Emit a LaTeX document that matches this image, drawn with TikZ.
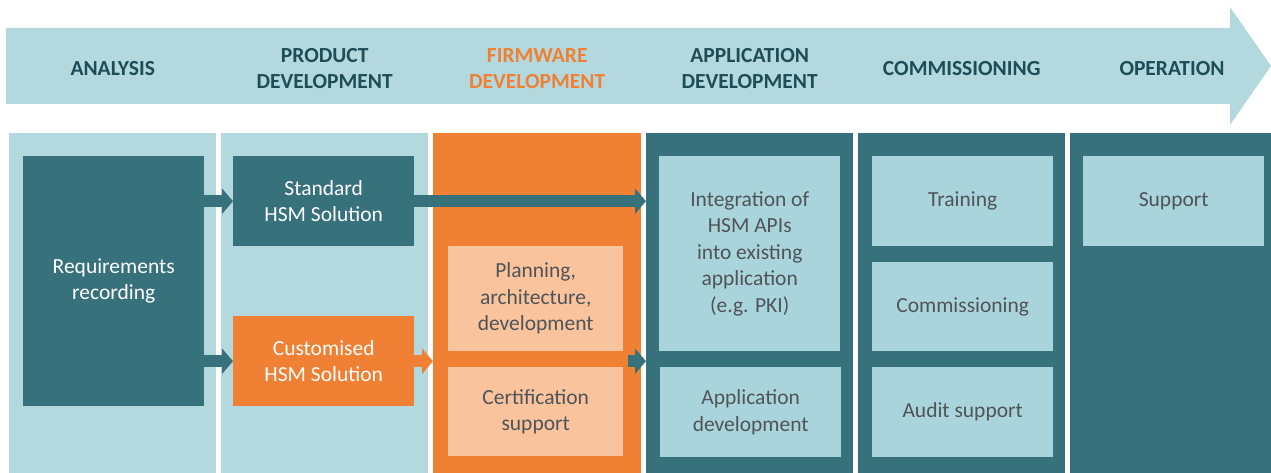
\documentclass[tikz,border=0pt]{standalone}
\usepackage{fontspec}
\setmainfont{Carlito}
\usetikzlibrary{arrows.meta}
\definecolor{lb}{HTML}{B3D9DF}
\definecolor{lbox}{HTML}{AAD4DB}
\definecolor{dk}{HTML}{37717C}
\definecolor{org}{HTML}{EF8034}
\definecolor{peach}{HTML}{F9C39D}
\definecolor{hdrc}{HTML}{1E4D57}
\definecolor{gtxt}{HTML}{4F5458}
\begin{document}
\begin{tikzpicture}[x=1pt,y=-1pt,
  col/.style={anchor=north west, inner sep=0pt, minimum width=207pt, minimum height=340pt},
  box/.style={anchor=north west, inner sep=0pt, minimum width=181pt, align=center, text=gtxt, font=\fontsize{21.5}{26.5}\selectfont},
  hdr/.style={align=center, text=hdrc, font=\bfseries\fontsize{21.5}{26}\selectfont},
  blk/.style={line width=12pt, -{Triangle[length=11pt,width=25pt]}}]
\useasboundingbox (0,0) rectangle (1271,473);
% big process arrow
\fill[lb] (6,28) -- (1230,28) -- (1230,7) -- (1271,66) -- (1230,125) -- (1230,104) -- (6,104) -- cycle;
% columns
\node[col, fill=lb] (c1) at (9,133) {};
\node[col, fill=lb] (c2) at (221,133) {};
\node[col, fill=org, minimum width=208pt] (c3) at (433,133) {};
\node[col, fill=dk] (c4) at (646,133) {};
\node[col, fill=dk] (c5) at (858,133) {};
\node[col, fill=dk, minimum width=201pt] (c6) at (1070,133) {};
% headers
\coordinate (hy) at (0,69);
\node[hdr] (h1) at (c1 |- hy) {ANALYSIS};
\node[hdr] (h2) at (c2 |- hy) {PRODUCT\\DEVELOPMENT};
\node[hdr, text=org] (h3) at (c3 |- hy) {FIRMWARE\\DEVELOPMENT};
\node[hdr] (h4) at (c4 |- hy) {APPLICATION\\DEVELOPMENT};
\node[hdr] (h5) at (c5 |- hy) {COMMISSIONING};
\node[hdr] (h6) at (1172,69) {OPERATION};
% boxes
\node[box, fill=dk, text=white, minimum height=250pt] (req) at (23,156) {Requirements\\recording};
\node[box, fill=dk, text=white, minimum height=90pt] (std) at (233,156) {Standard\\HSM Solution};
\node[box, fill=org, text=white, minimum height=90pt] (cust) at (233,316) {Customised\\HSM Solution};
\node[box, fill=peach, minimum width=175pt, minimum height=105pt] (plan) at (448,246) {Planning,\\architecture,\\development};
\node[box, fill=peach, minimum width=175pt, minimum height=89pt] (cert) at (448,367) {Certification\\support};
\node[box, fill=lbox, minimum height=195pt] (integ) at (659,156) {Integration of\\HSM APIs\\into existing\\application\\(e.g. PKI)};
\node[box, fill=lbox, minimum height=90pt] (appd) at (660,367) {Application\\development};
\node[box, fill=lbox, minimum height=90pt] (train) at (872,156) {Training};
\node[box, fill=lbox, minimum height=89pt] (comm) at (872,262) {Commissioning};
\node[box, fill=lbox, minimum height=90pt] (audit) at (872,367) {Audit support};
\node[box, fill=lbox, minimum height=90pt] (supp) at (1083,156) {Support};
% connectors
\draw[blk, dk] (req.east |- std.west) -- (std.west);
\draw[blk, dk] (req.east |- cust.west) -- (cust.west);
\draw[blk, dk] (std.east) -- (c4.west |- std.east);
\draw[blk, org] (cust.east) -- (c3.west |- cust.east);
\path (c4.west |- cust.east) ++(-18,0) coordinate (a3s);
\draw[blk, dk] (a3s) -- (c4.west |- cust.east);
\end{tikzpicture}
\end{document}
